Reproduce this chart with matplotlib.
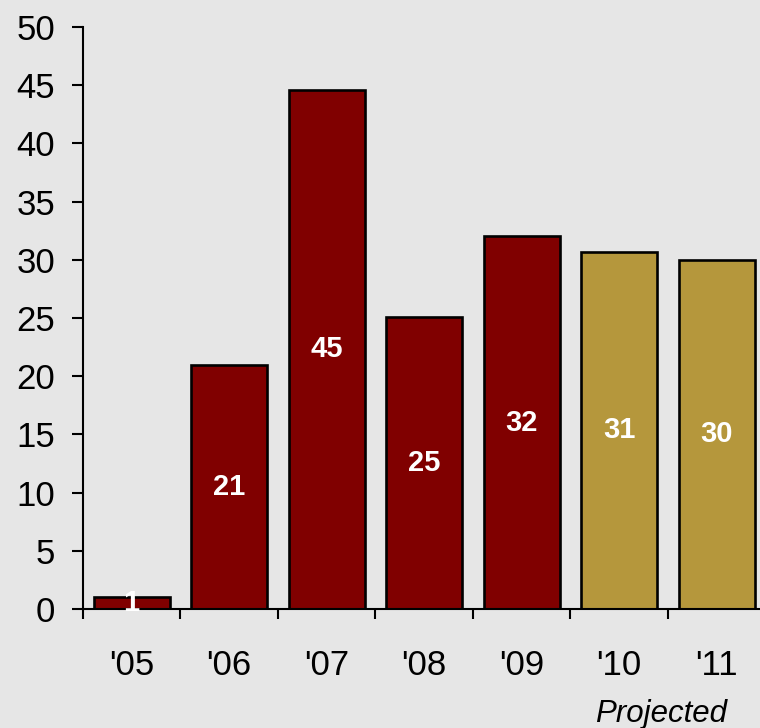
import matplotlib
matplotlib.use("Agg")
import matplotlib.pyplot as plt
import numpy as np

# Annual values by year; the last two years are projections
years = ["'05", "'06", "'07", "'08", "'09", "'10", "'11"]
values = [1, 21, 44.6, 25.1, 32, 30.7, 30]
projected = [False, False, False, False, False, True, True]
y_ticks = [0, 5, 10, 15, 20, 25, 30, 35, 40, 45, 50]

ACTUAL = "#800000"
PROJ = "#b5973c"
BG = "#e6e6e6"

plt.rcParams["font.family"] = ["Liberation Sans", "DejaVu Sans"]

fig = plt.figure(figsize=(7.6, 7.28), dpi=100, facecolor=BG)
ax = fig.add_axes([0.109, 0.1635, 0.898, 0.7995], facecolor=BG)

x = np.arange(len(years))
colors = [PROJ if p else ACTUAL for p in projected]
bars = ax.bar(x, values, width=0.78, color=colors, edgecolor="black",
              linewidth=1.9, zorder=2)

for xi, v in zip(x, values):
    ax.text(xi, v / 2, f"{round(v):d}", ha="center", va="center",
            color="white", fontsize=21, fontweight="bold", zorder=3)

ax.set_xlim(-0.5, len(years) - 0.5)
ax.set_ylim(0, 50)
ax.set_yticks(y_ticks)
ax.tick_params(axis="y", labelsize=25, length=8, width=1.5, pad=12,
               direction="out")

# Category labels on major ticks, boundary marks on minor ticks
ax.set_xticks(x)
ax.set_xticklabels(years)
ax.set_xticks(np.arange(-0.5, len(years), 1.0), minor=True)
ax.tick_params(axis="x", which="major", length=0, labelsize=25, pad=29)
ax.tick_params(axis="x", which="minor", length=7.5, width=1.5,
               direction="out")

for side in ("top", "right"):
    ax.spines[side].set_visible(False)
for side in ("left", "bottom"):
    ax.spines[side].set_linewidth(1.5)

ax.text(5.43, -0.18, "Projected", transform=ax.get_xaxis_transform(),
        ha="center", va="center", fontsize=22.5, style="italic")

fig.savefig("out.png", dpi=100, facecolor=BG)
